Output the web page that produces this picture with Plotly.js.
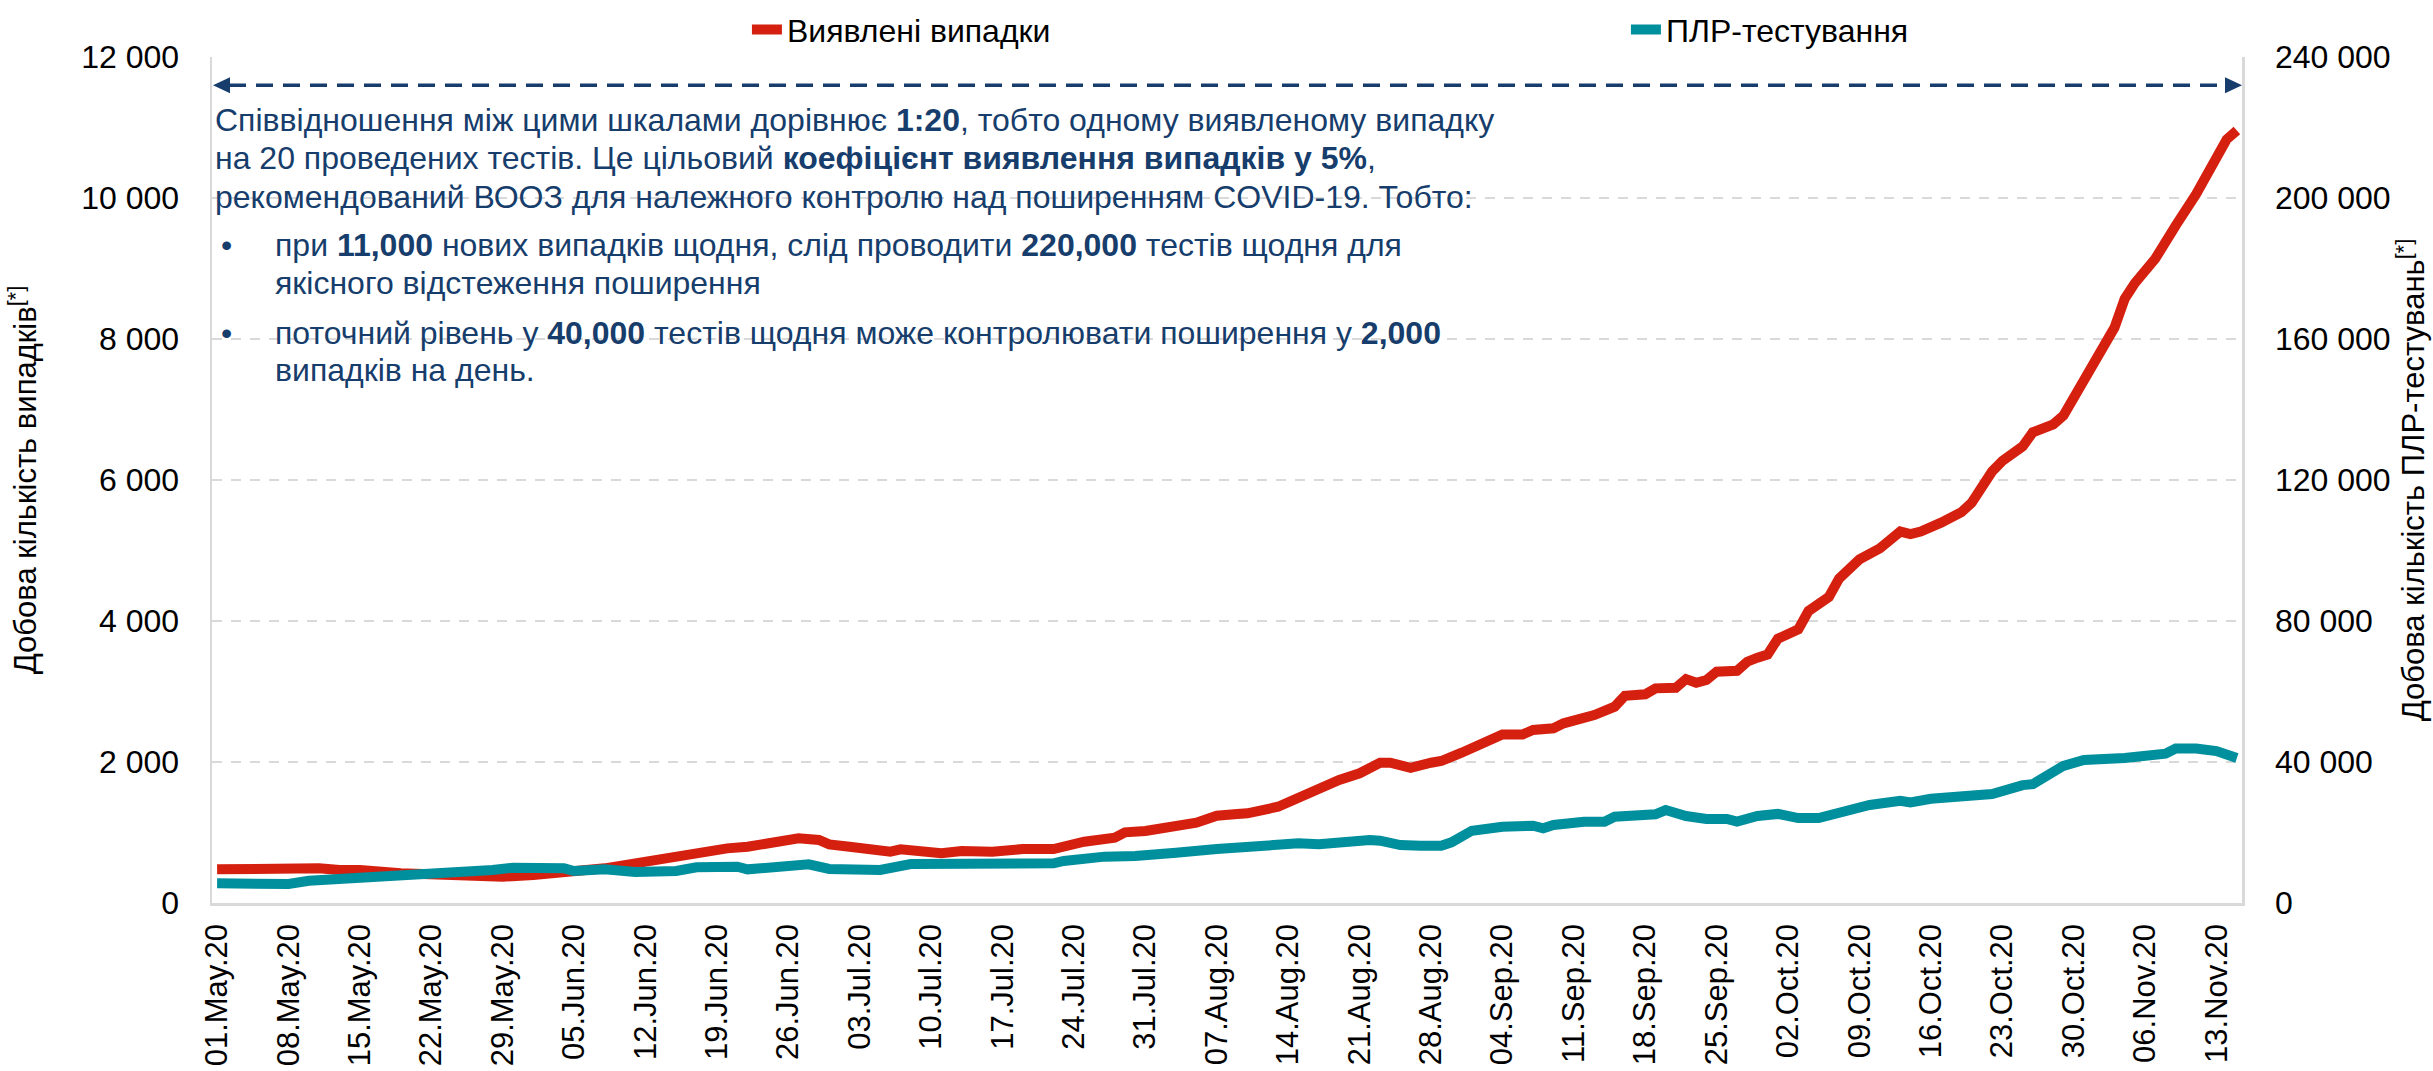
<!DOCTYPE html>
<html>
<head>
<meta charset="utf-8">
<script src="https://cdn.plot.ly/plotly-3.0.1.min.js"></script>
<style>
  html, body { margin: 0; padding: 0; background: #fff; }
  #chart { width: 2433px; height: 1071px; }
</style>
</head>
<body>
<div id="chart"></div>
<script>
// ---- Data ----
const casesName = "Виявлені випадки";
const testsName = "ПЛР-тестування";

const casesDates = [
  "2020-05-01","2020-05-03","2020-05-06","2020-05-11","2020-05-13","2020-05-15","2020-05-19","2020-05-23",
  "2020-05-26","2020-05-29","2020-06-01","2020-06-05","2020-06-08","2020-06-11","2020-06-15","2020-06-18",
  "2020-06-20","2020-06-22","2020-06-25","2020-06-27","2020-06-29","2020-06-30","2020-07-02","2020-07-06",
  "2020-07-07","2020-07-10","2020-07-11","2020-07-13","2020-07-16","2020-07-19","2020-07-22","2020-07-25",
  "2020-07-28","2020-07-29","2020-07-31","2020-08-05","2020-08-07","2020-08-09","2020-08-10","2020-08-13",
  "2020-08-15","2020-08-17","2020-08-19","2020-08-21","2020-08-22","2020-08-23","2020-08-24","2020-08-26",
  "2020-08-28","2020-08-29","2020-08-31","2020-09-02","2020-09-04","2020-09-06","2020-09-07","2020-09-09",
  "2020-09-10","2020-09-13","2020-09-15","2020-09-16","2020-09-18","2020-09-19","2020-09-21","2020-09-22",
  "2020-09-23","2020-09-24","2020-09-25","2020-09-27","2020-09-28","2020-09-29","2020-09-30","2020-10-01",
  "2020-10-03","2020-10-04","2020-10-06","2020-10-07","2020-10-09","2020-10-11","2020-10-13","2020-10-14",
  "2020-10-15","2020-10-17","2020-10-18","2020-10-19","2020-10-20","2020-10-22","2020-10-23","2020-10-25",
  "2020-10-26","2020-10-28","2020-10-29","2020-10-31","2020-11-01","2020-11-03","2020-11-04","2020-11-05",
  "2020-11-07","2020-11-08","2020-11-09","2020-11-11","2020-11-12","2020-11-13","2020-11-14","2020-11-15"
];
const casesValues = [
  478, 487, 486, 492, 468, 468, 421, 397,
  383, 373, 397, 444, 492, 563, 657, 752,
  775, 799, 879, 917, 894, 832, 799, 728,
  761, 738, 705, 738, 728, 766, 766, 870,
  926, 1002, 1021, 1139, 1238, 1262, 1272, 1366,
  1499, 1612, 1745, 1840, 1911, 1990, 1990, 1919,
  1990, 2014, 2132, 2274, 2392, 2392, 2454, 2478,
  2549, 2667, 2785, 2940, 2960, 3045, 3054, 3177,
  3125, 3163, 3281, 3295, 3423, 3480, 3526, 3749,
  3882, 4142, 4342, 4601, 4876, 5032, 5270, 5233,
  5270, 5396, 5469, 5545, 5678, 6123, 6271, 6479,
  6679, 6790, 6916, 7405, 7644, 8163, 8571, 8794,
  9142, 9350, 9610, 10055, 10315, 10611, 10834, 10960
];

const testsDates = [
  "2020-05-01","2020-05-05","2020-05-08","2020-05-10","2020-05-13","2020-05-16","2020-05-18","2020-05-21",
  "2020-05-25","2020-05-28","2020-05-30","2020-06-04","2020-06-05","2020-06-08","2020-06-11","2020-06-15",
  "2020-06-17","2020-06-20","2020-06-21","2020-06-22","2020-06-25","2020-06-28","2020-06-30","2020-07-02",
  "2020-07-05","2020-07-08","2020-07-12","2020-07-18","2020-07-20","2020-07-22","2020-07-23","2020-07-27",
  "2020-07-30","2020-08-01","2020-08-03","2020-08-07","2020-08-09","2020-08-11","2020-08-15","2020-08-17",
  "2020-08-20","2020-08-22","2020-08-23","2020-08-25","2020-08-27","2020-08-29","2020-08-30","2020-09-01",
  "2020-09-04","2020-09-07","2020-09-08","2020-09-09","2020-09-12","2020-09-14","2020-09-15","2020-09-17",
  "2020-09-19","2020-09-20","2020-09-22","2020-09-24","2020-09-26","2020-09-27","2020-09-28","2020-09-29",
  "2020-10-01","2020-10-03","2020-10-05","2020-10-08","2020-10-10","2020-10-13","2020-10-14","2020-10-16",
  "2020-10-19","2020-10-22","2020-10-25","2020-10-26","2020-10-29","2020-10-31","2020-11-04","2020-11-06",
  "2020-11-08","2020-11-09","2020-11-11","2020-11-13","2020-11-15"
];
const testsValues = [
  5590, 5870, 5390, 6330, 6810, 7470, 7280, 8140,
  8610, 9360, 10020, 9840, 9080, 9550, 8790, 9080,
  10120, 10500, 10310, 9550, 10590, 10970, 9650, 9360,
  9360, 11060, 11250, 11440, 11060, 11250, 11920, 13150,
  13330, 13620, 14280, 15320, 15900, 16450, 16930, 16650,
  17670, 17870, 17670, 16450, 16260, 16260, 17220, 20510,
  21650, 21930, 21190, 22130, 23070, 23070, 24480, 24880,
  25160, 26380, 24680, 23830, 23830, 23070, 23800, 24680,
  25280, 24090, 24090, 26330, 27800, 28990, 28540, 29590,
  30470, 30920, 33450, 33730, 38920, 40570, 41140, 41900,
  42360, 43830, 43830, 43090, 41140
];

const leftAxisTitle = "Добова кількість випадків<sup>[*]</sup>";
const rightAxisTitle = "Добова кількість ПЛР-тестувань<sup>[*]</sup>";

// note text, one entry per printed line
const noteMainLines = [
  "Співвідношення між цими шкалами дорівнює <b>1:20</b>, тобто одному виявленому випадку",
  "на 20 проведених тестів. Це цільовий <b>коефіцієнт виявлення випадків у 5%</b>,",
  "рекомендований ВООЗ для належного контролю над поширенням COVID-19. Тобто:"
];
const noteBullet1Lines = [
  "при <b>11,000</b> нових випадків щодня, слід проводити <b>220,000</b> тестів щодня для",
  "якісного відстеження поширення"
];
const noteBullet2Lines = [
  "поточний рівень у <b>40,000</b> тестів щодня може контролювати поширення у <b>2,000</b>",
  "випадків на день."
];

// ---- Styling ----
const FONT = "Liberation Sans, Arial, sans-serif";
const RED = "#d6200f";
const TEAL = "#008f9c";
const NAVY = "#163d6b";
const GRID = "#d9d9d9";

const W = 2433, H = 1071;
const M = { l: 212, r: 191, t: 57, b: 168 };
const PW = W - M.l - M.r, PH = H - M.t - M.b;
const px = v => (v - M.l) / PW;        // pixel x -> paper x
const py = v => 1 - (v - M.t) / PH;    // pixel y -> paper y
const dy = v => v / PH;

const traces = [
  {
    x: casesDates, y: casesValues, name: casesName, type: "scatter", mode: "lines",
    line: { color: RED, width: 10 }, yaxis: "y"
  },
  {
    x: testsDates, y: testsValues, name: testsName, type: "scatter", mode: "lines",
    line: { color: TEAL, width: 10 }, yaxis: "y2"
  }
];

function noteLine(text, xPix, yPix) {
  return { xref: "paper", yref: "paper", x: px(xPix), y: py(yPix),
    xanchor: "left", yanchor: "middle", align: "left", showarrow: false,
    text: text, font: { family: FONT, size: 32, color: NAVY } };
}

const annotations = [];
const mainY = [120, 158, 197];
noteMainLines.forEach((t, i) => annotations.push(noteLine(t, 213, mainY[i])));
annotations.push(noteLine("•", 219, 245));
const b1Y = [245, 283];
noteBullet1Lines.forEach((t, i) => annotations.push(noteLine(t, 273, b1Y[i])));
annotations.push(noteLine("•", 219, 333));
const b2Y = [333, 370];
noteBullet2Lines.forEach((t, i) => annotations.push(noteLine(t, 273, b2Y[i])));

const arrowY = py(85);
const layout = {
  width: W, height: H,
  margin: M,
  paper_bgcolor: "#fff", plot_bgcolor: "#fff",
  font: { family: FONT, size: 32, color: "#000" },
  separators: ". ",
  showlegend: true,
  legend: {
    orientation: "h",
    xref: "container", yref: "container",
    x: 0.307, y: 0.998, xanchor: "left", yanchor: "top",
    entrywidth: 834, entrywidthmode: "pixels",
    font: { family: FONT, size: 32, color: "#000" },
    bgcolor: "rgba(0,0,0,0)"
  },
  xaxis: {
    type: "date",
    range: ["2020-04-30 12:00", "2020-11-15 12:00"],
    tick0: "2020-05-01", dtick: 7 * 86400000,
    tickformat: "%d.%b.%y",
    tickangle: -90,
    ticks: "outside", ticklen: 6, tickcolor: "rgba(0,0,0,0)",
    tickfont: { family: FONT, size: 31, color: "#000" },
    showgrid: false, zeroline: false,
    showline: true, linecolor: GRID, linewidth: 2.5,
    automargin: false, fixedrange: true
  },
  yaxis: {
    range: [0, 12000], dtick: 2000, tick0: 0,
    tickformat: ",d",
    ticks: "outside", ticklen: 24, tickcolor: "rgba(0,0,0,0)",
    tickfont: { family: FONT, size: 32, color: "#000" },
    showgrid: true, gridcolor: GRID, gridwidth: 2.5, griddash: "10px,9px",
    zeroline: false,
    showline: true, linecolor: GRID, linewidth: 2.5,
    title: { text: leftAxisTitle, standoff: 36, font: { family: FONT, size: 31, color: "#000" } },
    automargin: false, fixedrange: true
  },
  yaxis2: {
    overlaying: "y", side: "right",
    range: [0, 240000], dtick: 40000, tick0: 0,
    tickformat: ",d",
    ticks: "outside", ticklen: 24, tickcolor: "rgba(0,0,0,0)",
    tickfont: { family: FONT, size: 32, color: "#000" },
    showgrid: false, zeroline: false,
    showline: true, linecolor: GRID, linewidth: 2.5,
    title: { text: rightAxisTitle, standoff: 12, font: { family: FONT, size: 31, color: "#000" } },
    automargin: false, fixedrange: true
  },
  shapes: [
    { type: "line", xref: "paper", yref: "paper",
      x0: px(229), x1: px(2226), y0: arrowY, y1: arrowY,
      line: { color: NAVY, width: 3.5, dash: "17px,10px" } },
    { type: "path", xref: "paper", yref: "paper",
      path: `M ${px(213)} ${arrowY} L ${px(230)} ${arrowY + dy(8)} L ${px(230)} ${arrowY - dy(8)} Z`,
      fillcolor: NAVY, line: { width: 0 } },
    { type: "path", xref: "paper", yref: "paper",
      path: `M ${px(2242)} ${arrowY} L ${px(2225)} ${arrowY + dy(8)} L ${px(2225)} ${arrowY - dy(8)} Z`,
      fillcolor: NAVY, line: { width: 0 } }
  ],
  annotations: annotations,
  hovermode: false
};

Plotly.newPlot("chart", traces, layout, { staticPlot: true, displayModeBar: false });
</script>
</body>
</html>
